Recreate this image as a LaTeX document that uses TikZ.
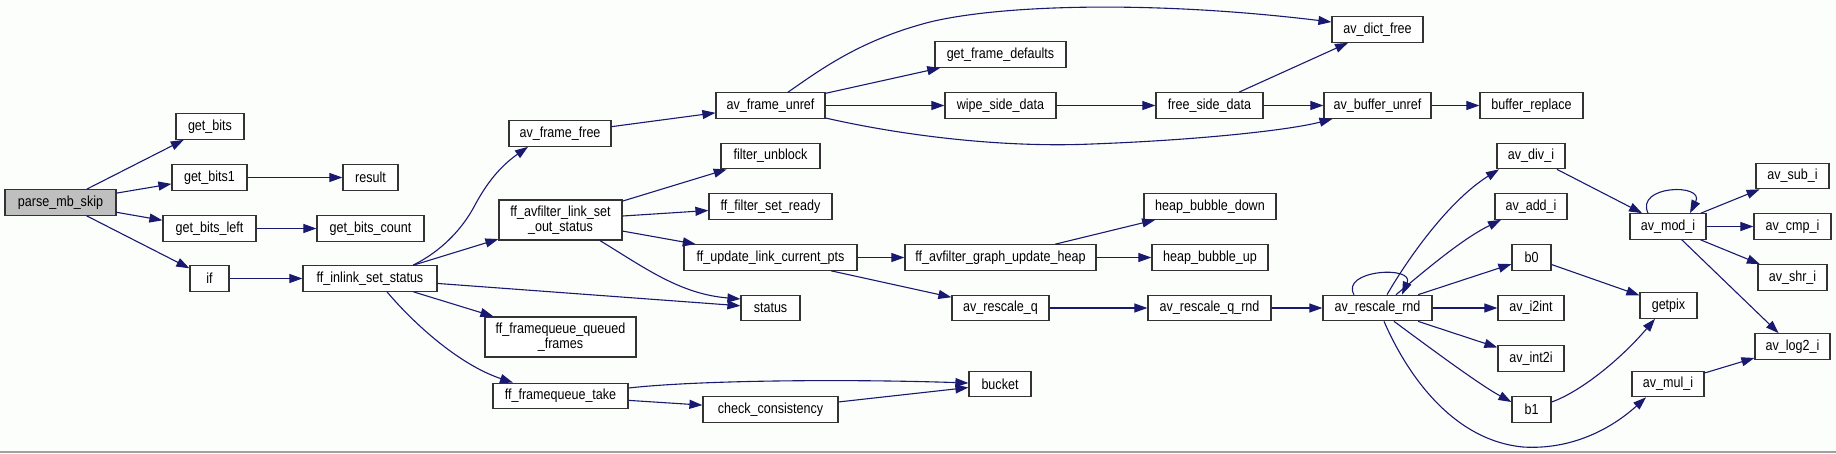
\documentclass[tikz,border=0pt]{standalone}
\usepackage{fontspec}
\setmainfont{Liberation Sans}[FakeStretch=0.86]
\usetikzlibrary{arrows.meta}
\definecolor{edgecol}{HTML}{191970}
\definecolor{bgcol}{RGB}{252,254,252}
\definecolor{boxcol}{RGB}{51,51,51}
\definecolor{rootfill}{RGB}{191,191,191}
\definecolor{rulecol}{RGB}{160,160,160}
\tikzset{
  fn/.style={draw=boxcol, line width=1.2pt, fill=white, inner sep=0pt, minimum height=25.5pt,
    font=\fontsize{14.6}{15}\selectfont, align=center},
  rootfn/.style={fn, fill=rootfill},
  edge/.style={draw=edgecol, line width=1.1pt, -{Triangle[length=13pt,width=9pt]}, fill=none}
}
\begin{document}
\begin{tikzpicture}[x=1pt,y=-1pt]
\fill[bgcol] (0,0) rectangle (1836,453);
\useasboundingbox (0,0) rectangle (1836,453);
\draw[rulecol, line width=1.5pt] (0,452) -- (1836,452);

% column 0-2
\node[rootfn, minimum width=111pt] (pmb) at (60.5,202.5) {parse\_mb\_skip};
\node[fn, minimum width=68pt] (gb) at (210,126.5) {get\_bits};
\node[fn, minimum width=75pt] (gb1) at (209.5,177.5) {get\_bits1};
\node[fn, minimum width=93pt] (gbl) at (209.5,228.5) {get\_bits\_left};
\node[fn, minimum width=39pt] (iff) at (209.5,278.5) {if};
\node[fn, minimum width=55pt] (res) at (370.5,177.5) {result};
\node[fn, minimum width=107pt] (gbc) at (370.5,228.5) {get\_bits\_count};
\node[fn, minimum width=134pt] (ffin) at (370,278.5) {ff\_inlink\_set\_status};
% column 3
\node[fn, minimum width=102pt] (avff) at (560,133.5) {av\_frame\_free};
\node[fn, minimum width=123pt, minimum height=40pt] (linkset) at (560.5,220) {ff\_avfilter\_link\_set\\\_out\_status};
\node[fn, minimum width=151pt, minimum height=40pt] (qf) at (560.5,337) {ff\_framequeue\_queued\\\_frames};
\node[fn, minimum width=135pt] (take) at (560.5,396) {ff\_framequeue\_take};
% column 4
\node[fn, minimum width=109pt] (afu) at (770.5,105.5) {av\_frame\_unref};
\node[fn, minimum width=99pt] (fub) at (770.5,156) {filter\_unblock};
\node[fn, minimum width=123pt] (fsr) at (770.5,206.5) {ff\_filter\_set\_ready};
\node[fn, minimum width=173pt] (fulcp) at (770.5,257.5) {ff\_update\_link\_current\_pts};
\node[fn, minimum width=59pt] (stat) at (770.5,308) {status};
\node[fn, minimum width=135pt] (cc) at (770.5,409.5) {check\_consistency};
% column 5
\node[fn, minimum width=131pt] (gfd) at (1000.5,54.5) {get\_frame\_defaults};
\node[fn, minimum width=111pt] (wsd) at (1000.5,105.5) {wipe\_side\_data};
\node[fn, minimum width=191pt] (heap) at (1000.5,257.5) {ff\_avfilter\_graph\_update\_heap};
\node[fn, minimum width=97pt] (arq) at (1000.5,308) {av\_rescale\_q};
\node[fn, minimum width=62pt] (bucket) at (1000,384) {bucket};
% column 6
\node[fn, minimum width=107pt] (fsd) at (1209.5,105.5) {free\_side\_data};
\node[fn, minimum width=132pt] (hbd) at (1210,206.5) {heap\_bubble\_down};
\node[fn, minimum width=116pt] (hbu) at (1210,257.5) {heap\_bubble\_up};
\node[fn, minimum width=123pt] (arqr) at (1209.5,308) {av\_rescale\_q\_rnd};
% column 7
\node[fn, minimum width=91pt] (adf) at (1377.5,29.5) {av\_dict\_free};
\node[fn, minimum width=107pt] (abu) at (1377.5,105.5) {av\_buffer\_unref};
\node[fn, minimum width=109pt] (arr) at (1377.5,308) {av\_rescale\_rnd};
% column 8
\node[fn, minimum width=103pt] (brep) at (1531.5,105.5) {buffer\_replace};
\node[fn, minimum width=68pt] (div) at (1531,156) {av\_div\_i};
\node[fn, minimum width=72pt] (add) at (1531,206.5) {av\_add\_i};
\node[fn, minimum width=39pt] (bzero) at (1531.5,257.5) {b0};
\node[fn, minimum width=66pt] (i2int) at (1531,308) {av\_i2int};
\node[fn, minimum width=66pt] (int2i) at (1531,358.5) {av\_int2i};
\node[fn, minimum width=39pt] (bone) at (1531.5,409.5) {b1};
% column 9
\node[fn, minimum width=76pt] (mod) at (1668,226.5) {av\_mod\_i};
\node[fn, minimum width=57pt] (getpix) at (1668.5,305.5) {getpix};
\node[fn, minimum width=72pt] (mul) at (1668,384) {av\_mul\_i};
% column 10
\node[fn, minimum width=73pt] (sub) at (1792.5,176) {av\_sub\_i};
\node[fn, minimum width=77pt] (cmp) at (1792.5,226.5) {av\_cmp\_i};
\node[fn, minimum width=69pt] (shr) at (1792.5,277.5) {av\_shr\_i};
\node[fn, minimum width=75pt] (log2) at (1792.5,346.5) {av\_log2\_i};

% edges
\draw[edge] (pmb) -- (gb);
\draw[edge] (pmb) -- (gb1);
\draw[edge] (pmb) -- (gbl);
\draw[edge] (pmb) -- (iff);
\draw[edge] (gb1) -- (res);
\draw[edge] (gbl) -- (gbc);
\draw[edge] (iff) -- (ffin);

\draw[edge] ([xshift=43pt]ffin.north) .. controls (440,252) and (462,230) .. (475,205) .. controls (490,177) and (505,163) .. ([xshift=-32pt]avff.south);
\draw[edge] (ffin) -- (linkset);
\draw[edge] (ffin) -- (stat);
\draw[edge] (ffin) -- (qf);
\draw[edge] ([xshift=17pt]ffin.south) .. controls (415,325) and (460,365) .. ([xshift=-47.5pt]take.north);

\draw[edge] (avff) -- (afu);
\draw[edge] (linkset) -- (fub);
\draw[edge] (linkset) -- (fsr);
\draw[edge] (linkset) -- (fulcp);
\draw[edge] ([xshift=39.5pt]linkset.south) .. controls (645,268) and (680,294) .. ([yshift=9pt]stat.west);
\draw[edge] ([yshift=8pt]take.east) .. controls (700,380) and (850,379) .. ([yshift=1pt]bucket.west);
\draw[edge] (take) -- (cc);
\draw[edge] (cc) -- (bucket);

\draw[edge] ([xshift=17.5pt]afu.north) .. controls (820,70) and (860,40) .. (930,22) .. controls (1000,5) and (1150,0) .. ([yshift=7.5pt]adf.west);
\draw[edge] (afu) -- (gfd);
\draw[edge] (afu) -- (wsd);
\draw[edge] ([yshift=-12.5pt]afu.east) .. controls (900,135) and (1000,148) .. (1092,144) .. controls (1200,140) and (1290,130) .. ([xshift=-45pt]abu.south);
\draw[edge] (wsd) -- (fsd);
\draw[edge] (fsd) -- (adf);
\draw[edge] (fsd) -- (abu);
\draw[edge] (abu) -- (brep);

\draw[edge] (fulcp) -- (heap);
\draw[edge] (fulcp) -- (arq);
\draw[edge] (heap) -- (hbd);
\draw[edge] (heap) -- (hbu);
\draw[edge] (arq) -- (arqr);
\draw[edge] (arqr) -- (arr);

\draw[edge] ([xshift=-23.5pt]arr.north) .. controls (1340,270) and (1415,265) .. ([xshift=24.5pt]arr.north);
\draw[edge] ([xshift=9.5pt]arr.north) .. controls (1410,255) and (1450,200) .. ([xshift=-32pt]div.south);
\draw[edge] ([xshift=18.5pt]arr.north) .. controls (1420,275) and (1460,240) .. ([xshift=-30pt]add.south);
\draw[edge] (arr) -- (bzero);
\draw[edge] (arr) -- (i2int);
\draw[edge] (arr) -- (int2i);
\draw[edge] ([xshift=16.5pt]arr.south) .. controls (1430,348) and (1480,385) .. ([yshift=7.5pt]bone.west);
\draw[edge] ([xshift=6.5pt]arr.south) .. controls (1405,370) and (1450,440) .. (1523,447) .. controls (1570,450) and (1610,430) .. ([xshift=-22pt]mul.south);

\draw[edge] (div) -- (mod);
\draw[edge] (bzero) -- (getpix);
\draw[edge] ([yshift=7.5pt]bone.east) .. controls (1580,392) and (1620,360) .. ([xshift=-13.5pt]getpix.south);
\draw[edge] (mul) -- (log2);

\draw[edge] ([xshift=-20pt]mod.north) .. controls (1635,185) and (1705,183) .. ([xshift=22pt]mod.north);
\draw[edge] (mod) -- (sub);
\draw[edge] (mod) -- (cmp);
\draw[edge] (mod) -- (shr);
\draw[edge] (mod) -- (log2);
\end{tikzpicture}
\end{document}
